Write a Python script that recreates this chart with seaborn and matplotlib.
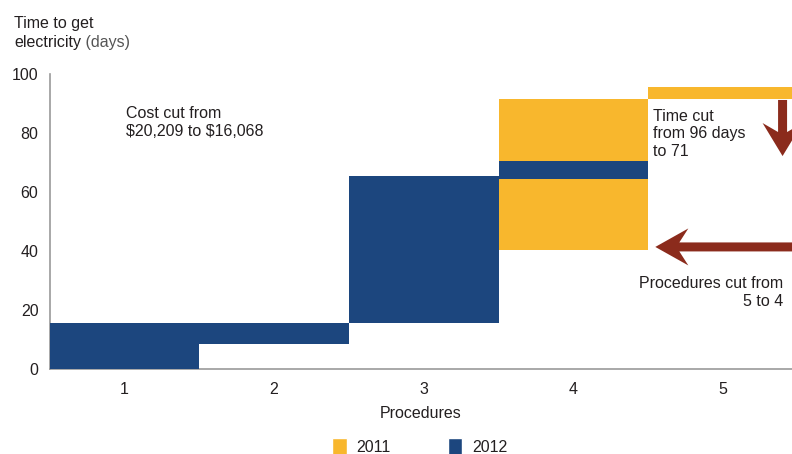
import matplotlib
matplotlib.use("Agg")
import matplotlib.pyplot as plt
import seaborn as sns
from matplotlib.patches import Patch, Polygon

# data (days)
procedures = [1, 2, 3, 4, 5]
start_2012 = [0, 8.5, 15.5, 64.5]
end_2012 = [15.5, 15.5, 65.5, 70.5]
proc_2011 = [4, 5]
start_2011 = [40.5, 91.5]
end_2011 = [91.5, 95.5]
yticks = [0, 20, 40, 60, 80, 100]

orange = "#F8B72D"
blue = "#1C467E"
arrow_red = "#8B2B1C"
text_col = "#231F20"

sns.set_theme(style="white")
plt.rcParams["font.family"] = ["Liberation Sans Narrow", "Liberation Sans", "DejaVu Sans"]
fs = 11.5

fig = plt.figure(figsize=(7.92, 4.54), dpi=100)
ax = fig.add_axes([0.0625, 0.187, 0.9375, 0.650])

ax.bar(proc_2011, [e - s for s, e in zip(start_2011, end_2011)], bottom=start_2011,
       width=1.0, color=orange, linewidth=0, zorder=2)
ax.bar(procedures[:4], [e - s for s, e in zip(start_2012, end_2012)], bottom=start_2012,
       width=1.0, color=blue, linewidth=0, zorder=3)

ax.set_xlim(0.5, 5.46)
ax.set_ylim(0, 100)
ax.set_xticks(procedures)
ax.set_yticks(yticks)
ax.tick_params(length=0, labelsize=fs, labelcolor=text_col)
ax.tick_params(axis="y", pad=8)
ax.tick_params(axis="x", pad=9)
ax.set_xlabel("Procedures", fontsize=fs, color=text_col, labelpad=7)
sns.despine(ax=ax)
for s in ["left", "bottom"]:
    ax.spines[s].set_color("#9A9A9A")
    ax.spines[s].set_linewidth(1.2)


def barbed_arrow(tail, tip, shaft_hw, head_hw, head_len, notch):
    # arrow drawn in pixel space, converted to data coords
    t = ax.transData
    (x0, y0), (x1, y1) = t.transform(tail), t.transform(tip)
    dx, dy = x1 - x0, y1 - y0
    L = (dx ** 2 + dy ** 2) ** 0.5
    ux, uy = dx / L, dy / L
    px, py = -uy, ux
    back = L - head_len
    join = back + notch

    def pt(a, b):
        return (x0 + ux * a + px * b, y0 + uy * a + py * b)

    pts = [pt(0, shaft_hw), pt(join, shaft_hw), pt(back, head_hw), pt(L, 0),
           pt(back, -head_hw), pt(join, -shaft_hw), pt(0, -shaft_hw)]
    pts = t.inverted().transform(pts)
    ax.add_patch(Polygon(pts, closed=True, facecolor=arrow_red, edgecolor="none",
                         zorder=4, clip_on=True))


fig.canvas.draw()
barbed_arrow((5.397, 91.2), (5.397, 72.2), 4.5, 20, 33, 9)
barbed_arrow((5.5, 41.4), (4.547, 41.4), 4.5, 18.5, 33, 9)

ax.text(1.01, 89.0, "Cost cut from\n\\$20,209 to \\$16,068", fontsize=fs, color=text_col,
        ha="left", va="top", linespacing=1.2)
ax.text(4.53, 88.2, "Time cut\nfrom 96 days\nto 71", fontsize=fs, color=text_col,
        ha="left", va="top", linespacing=1.2)
ax.text(5.4, 31.5, "Procedures cut from\n5 to 4", fontsize=fs, color=text_col,
        ha="right", va="top", multialignment="right", linespacing=1.2)

t1 = fig.text(14 / 792, 1 - 28 / 454, "Time to get", fontsize=fs, color=text_col,
              ha="left", va="baseline")
t2 = fig.text(14 / 792, 1 - 47 / 454, "electricity", fontsize=fs, color=text_col,
              ha="left", va="baseline")
ax.annotate(" (days)", xy=(1, 0), xycoords=t2, fontsize=fs, color="#555555",
            ha="left", va="bottom", annotation_clip=False)

handles = [Patch(facecolor=orange, label="2011"), Patch(facecolor=blue, label="2012")]
fig.legend(handles=handles, loc="lower center", bbox_to_anchor=(0.53, -0.035), ncol=2,
           frameon=False, fontsize=fs, handlelength=0.9, handleheight=1.3,
           handletextpad=0.6, columnspacing=3.6, labelcolor=text_col)

fig.savefig("out.png", dpi=100)
